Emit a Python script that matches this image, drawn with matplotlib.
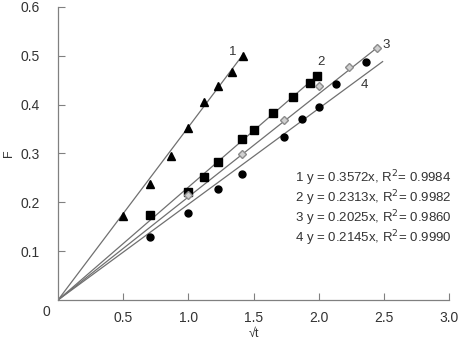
import numpy as np
from matplotlib import pyplot as plt

plt.rcParams['font.family'] = ['Liberation Sans', 'DejaVu Sans']

# data (x = sqrt(t), y = F)
x1 = [0.50, 0.707, 0.866, 1.0, 1.118, 1.225, 1.335, 1.42]
y1 = [0.172, 0.238, 0.295, 0.352, 0.406, 0.439, 0.467, 0.500]

x2 = [0.707, 1.0, 1.118, 1.225, 1.414, 1.50, 1.65, 1.80, 1.93, 1.99]
y2 = [0.174, 0.221, 0.252, 0.283, 0.330, 0.348, 0.383, 0.416, 0.445, 0.459]

x3 = [1.0, 1.414, 1.732, 2.0, 2.236, 2.449]
y3 = [0.215, 0.299, 0.369, 0.438, 0.477, 0.516]

x4 = [0.707, 1.0, 1.225, 1.414, 1.732, 1.87, 2.0, 2.13, 2.36]
y4 = [0.129, 0.178, 0.227, 0.258, 0.333, 0.370, 0.396, 0.443, 0.487]

# fitted lines through the origin, as drawn
slopes = [0.354, 0.231, 0.211, 0.196]
x_end = [1.42, 2.0, 2.46, 2.49]
line_names = ['1', '2', '3', '4']
name_pos = [(1.34, 0.507), (2.02, 0.488), (2.52, 0.522), (2.35, 0.440)]

equations = ['1 y = 0.3572x, R$^2$= 0.9984',
             '2 y = 0.2313x, R$^2$= 0.9982',
             '3 y = 0.2025x, R$^2$= 0.9860',
             '4 y = 0.2145x, R$^2$= 0.9990']

txt = '#333333'
grey = '#808080'

fig = plt.figure(figsize=(4.59, 3.42), dpi=100)
ax = fig.add_axes([0.1264, 0.1228, 0.852, 0.857])

for k in range(4):
    xx = np.array([0, x_end[k]])
    ax.plot(xx, slopes[k] * xx, '-', c='#707070', lw=0.9, zorder=1)

ax.plot(x1, y1, '^', c='black', ms=6, ls='none', zorder=3)
ax.plot(x2, y2, 's', c='black', ms=5.5, ls='none', zorder=3)
ax.plot(x3, y3, 'D', mfc='#d0d0d0', mec='#8c8c8c', ms=4, ls='none', zorder=3)
ax.plot(x4, y4, 'o', c='black', ms=5, ls='none', zorder=3)

for name, (px, py) in zip(line_names, name_pos):
    ax.text(px, py, name, color=txt, fontsize=9.5, ha='center', va='center')

for i, eq in enumerate(equations):
    ax.text(3.02, 0.250 - i * 0.041, eq, color=txt, fontsize=9.5,
            ha='right', va='center')

ax.set_xlim(0, 3.0)
ax.set_ylim(0, 0.6)
ax.set_xticks([0.5, 1.0, 1.5, 2.0, 2.5, 3.0])
ax.set_xticklabels(['0.5', '1.0', '1.5', '2.0', '2.5', '3.0'])
ax.set_yticks([0.1, 0.2, 0.3, 0.4, 0.5, 0.6])
ax.set_yticklabels(['0.1', '0.2', '0.3', '0.4', '0.5', '0.6'])
ax.tick_params(direction='in', length=5, width=0.8, color=grey,
               labelcolor=txt, labelsize=10)
ax.tick_params(axis='y', pad=13)
ax.tick_params(axis='x', pad=8)
ax.text(-0.03, -0.018, '0', transform=ax.transAxes, color=txt,
        fontsize=10, ha='center', va='top')

for s in ['top', 'right']:
    ax.spines[s].set_visible(False)
for s in ['left', 'bottom']:
    ax.spines[s].set_color(grey)
    ax.spines[s].set_linewidth(0.9)

ax.set_xlabel('√t', color=txt, fontsize=9, labelpad=2)
ax.set_ylabel('F', color=txt, fontsize=9, labelpad=4)

fig.savefig('out.png', dpi=100)
